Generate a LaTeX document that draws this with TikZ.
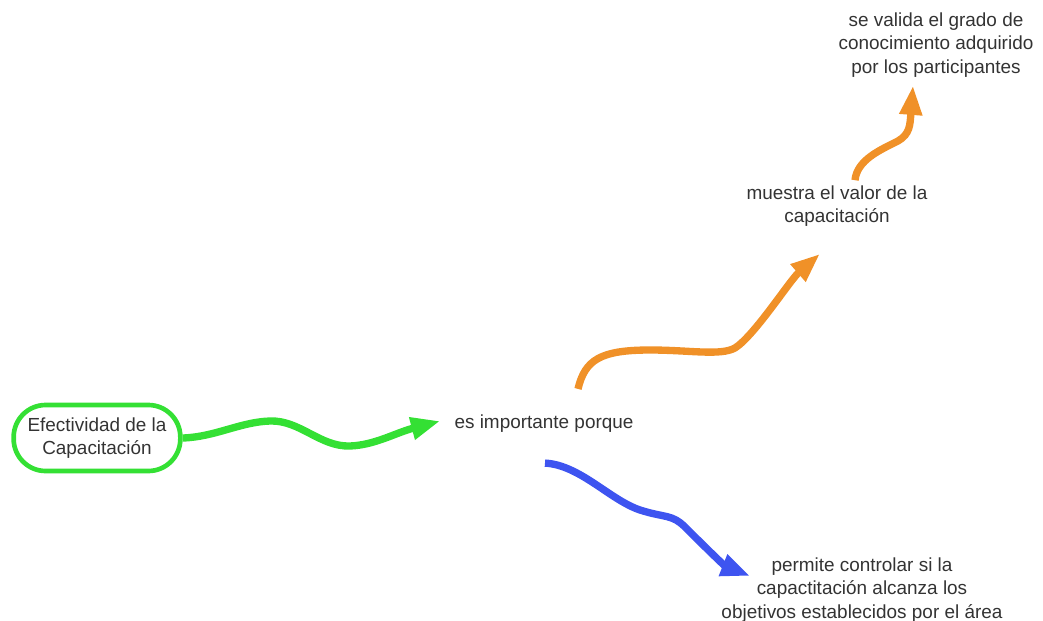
\documentclass[tikz,border=0pt]{standalone}
\usepackage{fontspec}
\setmainfont{Liberation Sans}
\usetikzlibrary{arrows.meta,calc}
\definecolor{tgreen}{RGB}{52,224,52}
\definecolor{torange}{RGB}{240,145,40}
\definecolor{tblue}{RGB}{62,84,240}
\definecolor{txtgray}{RGB}{51,51,51}
\begin{document}
\begin{tikzpicture}[x=0.75pt,y=-0.75pt,
  lbl/.style={align=center,text=txtgray,font=\fontsize{14.2}{17.6}\selectfont,inner sep=0pt},
  pill/.style={lbl,draw=tgreen,line width=3.5pt,rounded corners=24pt,minimum width=125pt,minimum height=49.5pt},
  conn/.style={line width=5.5pt,-{Triangle[length=22pt,width=16pt]}},
]
\useasboundingbox (0,0) rectangle (1043,621);

\node[pill] (n1) at (97,438) {Efectividad de la\\Capacitación};
\node[lbl] (n2) at (544,424) {es importante porque};
\node[lbl] (n3) at (837,206) {muestra el valor de la\\capacitación};
\node[lbl] (n4) at (936,45) {se valida el grado de\\conocimiento adquirido\\por los participantes};
\node[lbl] (n5) at (862,590) {permite controlar si la\\capactitación alcanza los\\objetivos establecidos por el área};

% green
\draw[conn,draw=tgreen] (n1.east) .. controls (215,437) and (240,422) .. (270,421)
  .. controls (300,420) and (320,447) .. (350,446)
  .. controls (375,445) and (395,433) .. ($(n2.west)+(-14,-3)$);

% orange 1
\draw[conn,draw=torange] ($(n2.north)+(34,-26)$) .. controls (585,360) and (600,350) .. (650,350)
  .. controls (690,350) and (720,356) .. (735,348)
  .. controls (755,335) and (790,280) .. ($(n3.south)+(-17,27)$);

% orange 2
\draw[conn,draw=torange] ($(n3.north)+(18,-5)$) .. controls (857,160) and (880,150) .. (898,141)
  .. controls (910,134) and (910,125) .. ($(n4.south)+(-23,8)$);

% blue
\draw[conn,draw=tblue] ($(n2.south)+(1,30)$) .. controls (580,465) and (610,500) .. (640,510)
  .. controls (665,518) and (672,514) .. (685,527)
  .. controls (715,557) and (725,566) .. ($(n5.west)+(29,-14)$);
\end{tikzpicture}
\end{document}
